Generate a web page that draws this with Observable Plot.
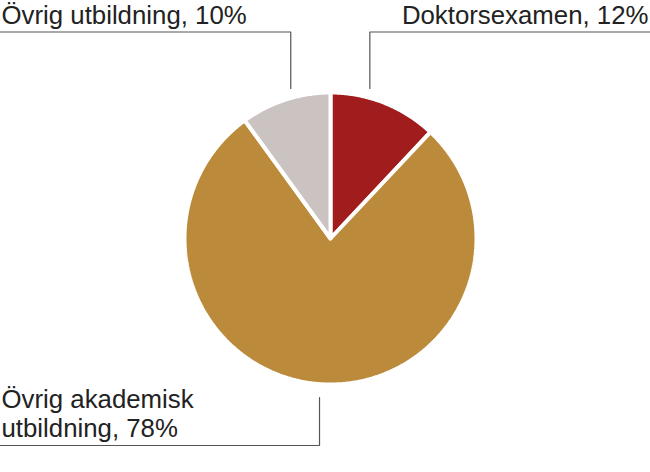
<!DOCTYPE html>
<html>
<head>
<meta charset="utf-8">
<script src="https://cdn.jsdelivr.net/npm/d3@7"></script>
<script src="https://cdn.jsdelivr.net/npm/@observablehq/plot@0.6"></script>
<style>
  html, body { margin: 0; padding: 0; background: #fff; }
  #chart svg { display: block; overflow: visible; }
</style>
</head>
<body>
<div id="chart"></div>
<script>
// ---- data ----
const categories = ["Doktorsexamen", "Övrig akademisk utbildning", "Övrig utbildning"];
const shares = [12, 78, 10];
const labels = ["Doktorsexamen, 12%", "Övrig akademisk\nutbildning, 78%", "Övrig utbildning, 10%"];
const colors = ["#a11c1c", "#bb8a3a", "#cbc3c2"];

// ---- layout (pixels) ----
const W = 650, H = 472, CX = 330, CY = 238, R = 146;
const toX = px => (px - CX) / R;
const toY = py => (CY - py) / R;

// ---- pie geometry from the data ----
const arcs = d3.pie().sort(null).value(d => d)(shares);
const slicePts = [];
arcs.forEach((a, i) => {
  const cat = categories[i];
  slicePts.push({cat, x: 0, y: 0});
  const n = Math.max(2, Math.ceil((a.endAngle - a.startAngle) / 0.01));
  for (let k = 0; k <= n; k++) {
    const t = a.startAngle + (a.endAngle - a.startAngle) * k / n;
    slicePts.push({cat, x: Math.sin(t), y: Math.cos(t)});
  }
  slicePts.push({cat, x: 0, y: 0});
});

// leader lines and labels
const mid = arcs.map(a => (a.startAngle + a.endAngle) / 2);
const leadX = mid.map(m => Math.sin(m) * 0.8 - 0.025);
// label placement per slice: top-right, bottom-left, top-left
const place = [
  {side: "top", textX: 648, anchor: "end", lineFrom: W},
  {side: "bottom", textX: 1, anchor: "start", lineFrom: 0},
  {side: "top", textX: 1, anchor: "start", lineFrom: 0}
];
const leaderPts = [];
const textRows = [];
place.forEach((p, i) => {
  const cat = categories[i];
  if (p.side === "top") {
    const yl = toY(31.5), yEnd = toY(88);
    leaderPts.push({cat, x: toX(p.lineFrom), y: yl}, {cat, x: leadX[i], y: yl}, {cat, x: leadX[i], y: yEnd});
    textRows.push({text: labels[i], x: toX(p.textX), y: toY(23), anchor: p.anchor});
  } else {
    const yl = toY(445), yEnd = toY(397);
    leaderPts.push({cat, x: toX(p.lineFrom), y: yl}, {cat, x: leadX[i], y: yl}, {cat, x: leadX[i], y: yEnd});
    textRows.push({text: labels[i], x: toX(p.textX), y: toY(436), anchor: p.anchor});
  }
});

const chart = Plot.plot({
  width: W,
  height: H,
  margin: 0,
  style: {fontFamily: "'Liberation Sans', Arial, sans-serif", background: "#fff"},
  x: {domain: [-1, 1], range: [CX - R, CX + R], axis: null},
  y: {domain: [-1, 1], range: [CY + R, CY - R], axis: null},
  color: {domain: categories, range: colors},
  marks: [
    Plot.line(slicePts, {x: "x", y: "y", z: "cat", fill: "cat", stroke: "#fff", strokeWidth: 4, strokeLinejoin: "miter", curve: "linear"}),
    Plot.line(leaderPts, {x: "x", y: "y", z: "cat", stroke: "#555", strokeWidth: 1.2, curve: "linear", strokeLinejoin: "miter"}),
    Plot.text(textRows.filter(d => d.anchor === "end"), {x: "x", y: "y", text: "text", textAnchor: "end", lineAnchor: "bottom", fontSize: 25.8, fill: "#222", lineHeight: 1.1}),
    Plot.text(textRows.filter(d => d.anchor === "start"), {x: "x", y: "y", text: "text", textAnchor: "start", lineAnchor: "bottom", fontSize: 25.8, fill: "#222", lineHeight: 1.1})
  ]
});
document.getElementById("chart").appendChild(chart);
</script>
</body>
</html>
